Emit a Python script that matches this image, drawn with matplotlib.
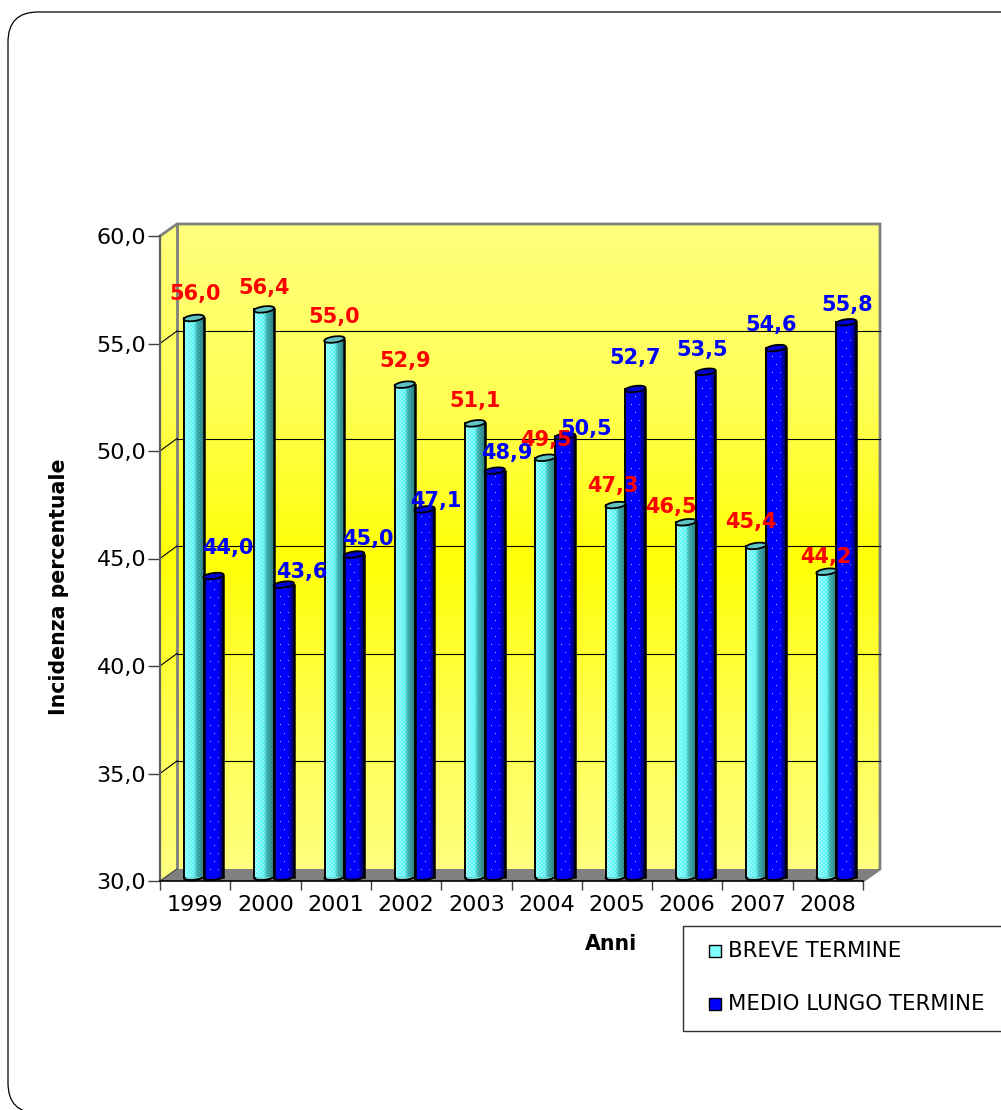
import numpy as np
import matplotlib
matplotlib.use('Agg')
import matplotlib.pyplot as plt
from matplotlib.patches import Ellipse, FancyBboxPatch, Polygon, Rectangle
from matplotlib.transforms import Affine2D

anni = ['1999','2000','2001','2002','2003','2004','2005','2006','2007','2008']
breve = [56.0,56.4,55.0,52.9,51.1,49.5,47.3,46.5,45.4,44.2]
medio = [44.0,43.6,45.0,47.1,48.9,50.5,52.7,53.5,54.6,55.8]
yticks = [30,35,40,45,50,55,60]

# label offsets in px from bar top (the source chart moved them by hand)
breve_lab = [(1,24),(0,21),(0,23),(0,24),(0,22),(1,18),(-3,19),(-15,15),(-5,24),(-1,15)]
medio_lab = [(14,28),(18,13),(14,15),(11,8),(12,18),(21,7),(0,31),(-3,22),(-5,23),(1,17)]

W,H = 1001,1110
plt.rcParams['font.family'] = ['DejaVu Sans']
fig = plt.figure(figsize=(W/100,H/100),dpi=100,facecolor='white')

# page layer in pixel coords: border, walls, floor, legend
bg = fig.add_axes([0,0,1,1],zorder=0)
bg.set_xlim(0,W); bg.set_ylim(H,0); bg.axis('off')
bg.add_patch(FancyBboxPatch((8,12),1200,1101,boxstyle='round,pad=0,rounding_size=30',fc='white',ec='black',lw=0.9))

rows = np.arange(224,882)
g = np.interp(rows,[224,400,560,720,881],[125,85,5,80,130])
grad = np.zeros((len(rows),1,3))
grad[:,:,0] = 1; grad[:,:,1] = 1; grad[:,0,2] = g/255
wall = bg.imshow(grad,extent=(160,880,881,224),aspect='auto',zorder=1)
wall.set_clip_path(Polygon([(160,236),(177,224),(880,224),(880,869),(863,881),(160,881)],transform=bg.transData))
bg.set_xlim(0,W); bg.set_ylim(H,0)
bg.add_patch(Polygon([(160,881),(177,869),(880,869),(863,881)],fc='#808080',ec='none',zorder=2))
bg.plot([160,177,880,880,863],[236,224,224,869,881],color='#808080',lw=2,zorder=3,solid_joinstyle='miter')
bg.plot([177,177],[224,869],color='#808080',lw=2,zorder=3)
bg.plot([160,177],[881,869],color='#505050',lw=1,zorder=3)

bg.add_patch(Rectangle((683,926),330,105,fc='white',ec='#303030',lw=1,zorder=3))
for yy,col,name in [(951,'#80ffff','BREVE TERMINE'),(1004,'#0000ff','MEDIO LUNGO TERMINE')]:
    bg.add_patch(Rectangle((709,yy-6),12,12,fc=col,ec='black',lw=1,zorder=4))
    bg.text(728,yy,name,fontsize=15.3,color='black',va='center',ha='left',zorder=4)

# chart layer, front plane of the 3d box
ax = fig.add_axes([160/W,1-881/H,703/W,645/H],zorder=1)
ax.patch.set_visible(False)
ax.set_xlim(0,10); ax.set_ylim(30,60)
for s in ['top','right']:
    ax.spines[s].set_visible(False)
ax.spines['left'].set_color('#606060'); ax.spines['left'].set_linewidth(1.6)
ax.spines['bottom'].set_color('black'); ax.spines['bottom'].set_linewidth(1.2)
ax.set_yticks(yticks)
ax.set_yticklabels([('%.1f'%t).replace('.',',') for t in yticks])
ax.set_xticks(range(11)); ax.set_xticklabels([])
ax.set_xticks(np.arange(len(anni))+0.5,minor=True); ax.set_xticklabels(anni,minor=True)
ax.tick_params(axis='y',direction='out',length=9,width=1,color='#404040',labelsize=16,pad=1)
ax.tick_params(axis='x',which='major',direction='out',length=6.5,width=1,color='#404040')
ax.tick_params(axis='x',which='minor',length=0,labelsize=16,pad=10)
ax.set_ylabel('Incidenza percentuale',fontsize=14.8,fontweight='bold',labelpad=0)
ax.yaxis.set_label_coords((69-160)/703,1-(587-236)/645)
ax.set_xlabel('Anni',fontsize=14.8,fontweight='bold')
ax.xaxis.set_label_coords((611-160)/703,-(944-881)/645,transform=ax.transAxes)
ax.xaxis.label.set_va('center')

back = ax.transData+Affine2D().translate(17,12.5)
for t in yticks[1:-1]:
    ax.plot([0,10],[t,t],color='black',lw=0.8,transform=back,zorder=1,clip_on=False)
    p = ax.transData.transform((0,t))
    ax.plot([p[0],p[0]+17],[p[1],p[1]+12.5],color='black',lw=0.8,transform=None,zorder=1,clip_on=False)

mid = ax.transData+Affine2D().translate(8.5,4)
bw = 0.28
x = np.arange(len(anni))+0.5

def cyan_img(n,w):
    img = np.zeros((n,w,3))
    for c in range(w):
        f = c/(w-1)
        shade = np.interp(f,[0,0.5,0.65,1],[1.0,0.95,0.7,0.5])
        light = np.interp(f,[0,0.5,0.65,1],[0.7,0.55,0.45,0.45])
        for r in range(n):
            b = light if (r//2+c//2)%2 else light*0.6
            img[r,c] = [b*shade,shade,shade]
    return img

def blue_img(n,w):
    img = np.zeros((n,w,3))
    for c in range(w):
        f = c/(w-1)
        img[:,c,2] = np.interp(f,[0,0.12,0.7,1],[0.8,1.0,1.0,0.35])
    # small white dots spaced like the pattern fill
    for r in range(n):
        row = n-1-r
        if row%16==7:
            img[r,6] = [0.75,0.75,1.0]
            img[r,14] = [0.55,0.55,0.95]
        elif row%16==15:
            img[r,10] = [0.75,0.75,1.0]
    return img

def draw_bars(xs,vals,kind,labs,labcol):
    rects = ax.bar(xs,[v-30 for v in vals],bw,bottom=30,transform=mid,fc='none',ec='none',lw=0,zorder=4,clip_on=False)
    for r,v,(dx,dy) in zip(rects,vals,labs):
        r.set_transform(mid)
        x0 = r.get_x(); x1 = x0+bw
        xc = x0+bw/2
        top = mid.transform((xc,v)); bot = mid.transform((xc,30))
        n = max(int(top[1]-bot[1]),2); w = 20
        if kind=='c':
            im = ax.imshow(cyan_img(n,w),extent=(x0,x1,30,v),aspect='auto',transform=mid,zorder=3,interpolation='bilinear')
        else:
            im = ax.imshow(blue_img(n,w),extent=(x0,x1,30,v),aspect='auto',transform=mid,zorder=3,interpolation='nearest')
        im.set_clip_path(r)
        # rounded foot and the tilted top cap
        foot = Ellipse((0,0),19.7,6,fc='#70d8d8' if kind=='c' else '#0000e0',ec='black',lw=1.5,
                       transform=Affine2D().rotate_deg(6).translate(*bot),zorder=2.5)
        ax.add_patch(foot); foot.set_clip_on(False)
        ax.plot([x0,x0],[30,v],color='black',lw=1.4,transform=mid,zorder=4,clip_on=False)
        ax.plot([x1,x1],[30,v],color='black',lw=1.8,transform=mid,zorder=4,clip_on=False)
        cap = Ellipse((0,0),20.5,6,fc='#60c4c4' if kind=='c' else '#0000d0',ec='black',lw=1.3,
                      transform=Affine2D().rotate_deg(8).translate(*top),zorder=5)
        ax.add_patch(cap); cap.set_clip_on(False)
        ax.text(top[0]+dx,top[1]+dy,('%.1f'%v).replace('.',','),transform=None,color=labcol,fontsize=15,
                fontweight='bold',ha='center',va='center',zorder=8,clip_on=False)

draw_bars(x-bw/2,breve,'c',breve_lab,'#ff0000')
draw_bars(x+bw/2,medio,'b',medio_lab,'#0000ff')
ax.set_xlim(0,10); ax.set_ylim(30,60)

fig.savefig('out.png',dpi=100)
